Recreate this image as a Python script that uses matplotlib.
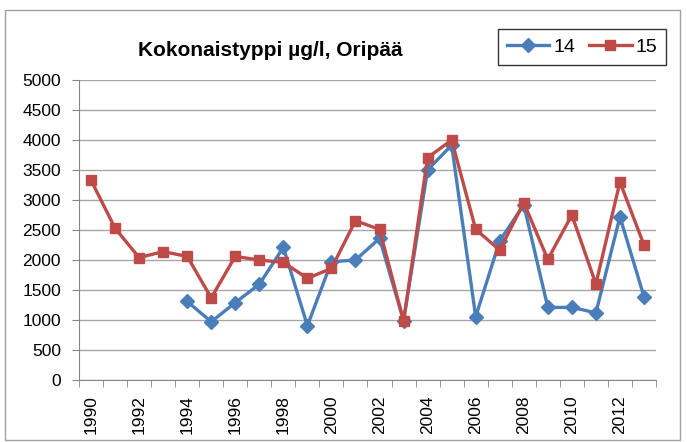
import numpy as np
import matplotlib
matplotlib.use('Agg')
from matplotlib import pyplot as plt
from matplotlib.patches import Rectangle

vuodet = list(range(1990, 2014))
asema_14 = [np.nan, np.nan, np.nan, np.nan, 1310, 970, 1290, 1595, 2210, 905,
            1970, 2000, 2360, 990, 3500, 3915, 1055, 2320, 2920, 1210,
            1210, 1120, 2720, 1390]
asema_15 = [3330, 2530, 2040, 2140, 2060, 1370, 2060, 2000, 1960, 1695,
            1860, 2655, 2510, 985, 3705, 4000, 2510, 2165, 2955, 2010,
            2750, 1600, 3300, 2250]
sarjat = ['14', '15']

plt.rcParams['font.family'] = ['Liberation Sans', 'DejaVu Sans']

fig = plt.figure(figsize=(6.87, 4.42), dpi=100)
fig.patch.set_facecolor('white')
fig.patches.append(Rectangle((5 / 687, 2 / 442), 675 / 687, 430 / 442,
                             transform=fig.transFigure, fill=False,
                             edgecolor='#a0a0a0', linewidth=1))

ax = fig.add_axes([79 / 687, 62 / 442, 577 / 687, 300 / 442])
x = np.arange(len(vuodet))

ax.plot(x, asema_14, color='#4a7ebb', linewidth=2.4, marker='D',
        markersize=7, label=sarjat[0], zorder=3)
ax.plot(x, asema_15, color='#be4b48', linewidth=2.4, marker='s',
        markersize=7.5, label=sarjat[1], zorder=3)

ax.set_xlim(-0.5, len(vuodet) - 0.5)
ax.set_ylim(0, 5000)
ax.set_yticks(np.arange(0, 5001, 500))
ax.yaxis.grid(True, color='#a6a6a6', linewidth=1)
ax.set_axisbelow(True)

ax.set_xticks(x[::2])
ax.set_xticklabels([str(v) for v in vuodet[::2]], rotation=90)
ax.set_xticks(np.arange(-0.5, len(vuodet)), minor=True)
ax.tick_params(axis='x', which='major', length=0, pad=11, labelsize=12.5)
ax.tick_params(axis='x', which='minor', length=5, color='#868686')
ax.tick_params(axis='y', length=5, pad=8, color='#868686', labelsize=12.5)

for s in ['top', 'right']:
    ax.spines[s].set_visible(False)
for s in ['left', 'bottom']:
    ax.spines[s].set_color('#868686')

fig.text(270 / 687, 1 - 50 / 442, 'Kokonaistyppi µg/l, Oripää',
         ha='center', va='center', fontsize=15, fontweight='bold')

leg = fig.legend(loc='center', bbox_to_anchor=(582 / 687, 1 - 47 / 442),
                 ncol=2, frameon=True, fancybox=False, edgecolor='black',
                 fontsize=14, handlelength=2.2, columnspacing=0.7,
                 handletextpad=0.2, borderpad=0.45, borderaxespad=0)
leg.get_frame().set_linewidth(1)

plt.savefig('out.png', dpi=100)
